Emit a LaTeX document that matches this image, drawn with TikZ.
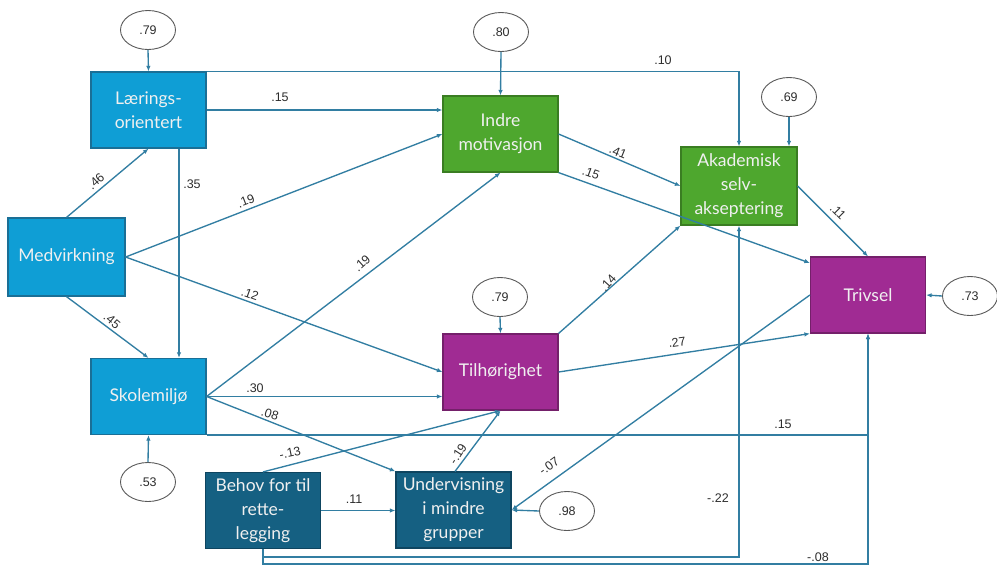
\documentclass[tikz,border=0pt]{standalone}
\usepackage{fontspec}
\setmainfont{Lato}
\newfontfamily\coeffont{Liberation Sans}
\usetikzlibrary{arrows.meta,calc,shapes.geometric}

\definecolor{schoolblue}{HTML}{0F9ED5}
\definecolor{schoolblueD}{HTML}{1A6F96}
\definecolor{motivgreen}{HTML}{4EA72E}
\definecolor{motivgreenD}{HTML}{3A7D22}
\definecolor{wellpurple}{HTML}{A02B93}
\definecolor{wellpurpleD}{HTML}{74206A}
\definecolor{adaptteal}{HTML}{156082}
\definecolor{adapttealD}{HTML}{0E4560}
\definecolor{pathline}{RGB}{50,126,162}
\definecolor{coefgray}{RGB}{45,45,45}

\begin{document}
\begin{tikzpicture}[x=1pt,y=-1pt,
  box/.style={draw, line width=1.2pt, minimum width=115pt, minimum height=76pt,
    inner sep=2pt, align=center, text=white!94!black,
    font=\fontsize{17.5}{24}\selectfont},
  bluebox/.style={box, fill=schoolblue, draw=schoolblueD},
  greenbox/.style={box, fill=motivgreen, draw=motivgreenD},
  purplebox/.style={box, fill=wellpurple, draw=wellpurpleD},
  tealbox/.style={box, fill=adaptteal, draw=adapttealD},
  resid/.style={ellipse, draw=black!65, line width=0.9pt, fill=white,
    minimum width=55pt, minimum height=39pt, inner sep=0pt,
    font=\coeffont\fontsize{12.5}{14}\selectfont, text=coefgray},
  path/.style={draw=pathline, line width=1.35pt,
    -{Latex[length=5.5pt,width=4.5pt]}},
  coef/.style={font=\coeffont\fontsize{12.5}{14}\selectfont, text=coefgray,
    inner sep=1pt}
]
\useasboundingbox (0,0) rectangle (997,566);

% variables
\node[bluebox]   (lo)  at (148.5,110)   {Lærings-\\orientert};
\node[bluebox, minimum width=117pt, minimum height=78pt] (med) at (66.5,257) {Medvirkning};
\node[bluebox]   (sk)  at (148.5,396.5) {Skolemiljø};
\node[tealbox]   (beh) at (263,510.5)   {Behov for til\\rette-\\legging};
\node[tealbox]   (und) at (453.5,510)   {Undervisning\\i mindre\\grupper};
\node[purplebox] (til) at (500.5,372)   {Tilhørighet};
\node[greenbox]  (ind) at (500.5,134)   {Indre\\motivasjon};
\node[greenbox, minimum width=116pt, minimum height=78pt] (aka) at (739,186) {Akademisk\\selv-\\akseptering};
\node[purplebox] (tri) at (868,295)     {Trivsel};

% residual variances
\node[resid] (e1) at (148,30)  {.79};
\node[resid] (e2) at (501,32)  {.80};
\node[resid] (e3) at (789,97)  {.69};
\node[resid] (e4) at (500,297) {.79};
\node[resid] (e5) at (970,296) {.73};
\node[resid] (e6) at (148,482) {.53};
\node[resid] (e7) at (567,511) {.98};

\coordinate (r1) at (263,557);
\coordinate (r2) at (263,564);

% residual arrows
\draw[path] (e1.south) -- (lo.north);
\draw[path] (e2.south) -- (ind.north);
\draw[path] (e3.south) -- (e3.south |- aka.north);
\draw[path] (e4.south) -- (til.north);
\draw[path] (e5.west) -- (tri.east);
\draw[path] (e6.north) -- (sk.south);
\draw[path] (e7.west) -- (und.east);

% structural paths
\draw[path] (lo.east) -- (lo.east -| ind.west);
\draw[path] (lo.north east) -| (aka.north);
\draw[path] ([xshift=30.5pt]lo.south) -- ([xshift=30.5pt]sk.north);
\draw[path] (med.north) -- (lo.south);
\draw[path] (med.south) -- (sk.north);
\draw[path] (med.east) -- (ind.west);
\draw[path] (med.east) -- (til.west);
\draw[path] (sk.east) -- (ind.south);
\draw[path] (sk.east) -- (sk.east -| til.west);
\draw[path] (sk.east) -- (und.north west);
\draw[path] (sk.south east) -| (tri.south);
\draw[path] (beh.north) -- (til.south);
\draw[path] (beh.east) -- (beh.east -| und.west);
\draw[path] (beh.south) -- (r1) -| (aka.south);
\draw[path] (beh.south) -- (r2) -| (tri.south);
\draw[path] ([xshift=1.5pt]und.north) -- (til.south);
\draw[path] (tri.west) -- (und.east);
\draw[path] (ind.east) -- (aka.west);
\draw[path] (ind.south east) -- ([yshift=32pt]tri.west);
\draw[path] (aka.east) -- (tri.north);
\draw[path] (til.north east) -- (aka.south west);
\draw[path] (til.east) -- (tri.south west);

% coefficients
\node[coef] (c1)  at (280,97)  {.15};
\node[coef] (c2)  at (663,60)  {.10};
\node[coef] (c3)  at (192,184) {.35};
\node[coef, rotate=42] (c4) at (96,181) {.46};
\node[coef, rotate=-40] (c5) at (112,321) {.45};
\node[coef, rotate=21] (c6) at (246,201) {.19};
\node[coef, rotate=-20] (c7) at (250,294) {.12};
\node[coef, rotate=42] (c8) at (362,263) {.19};
\node[coef] (c9)  at (255,388) {.30};
\node[coef, rotate=-18] (c10) at (270,414) {.08};
\node[coef, rotate=12] (c11) at (290,453) {-.13};
\node[coef] (c12) at (354,499) {.11};
\node[coef, rotate=57] (c13) at (458,454) {-.19};
\node[coef, rotate=36] (c14) at (549,466) {-.07};
\node[coef, rotate=-22] (c15) at (618,152) {.41};
\node[coef, rotate=-20] (c16) at (591,173) {.15};
\node[coef, rotate=-45] (c17) at (838,212) {.11};
\node[coef, rotate=48] (c18) at (608,283) {.14};
\node[coef, rotate=8] (c19) at (677,342) {.27};
\node[coef] (c20) at (783,424) {.15};
\node[coef] (c21) at (718,498) {-.22};
\node[coef] (c22) at (818,557) {-.08};
\end{tikzpicture}
\end{document}
